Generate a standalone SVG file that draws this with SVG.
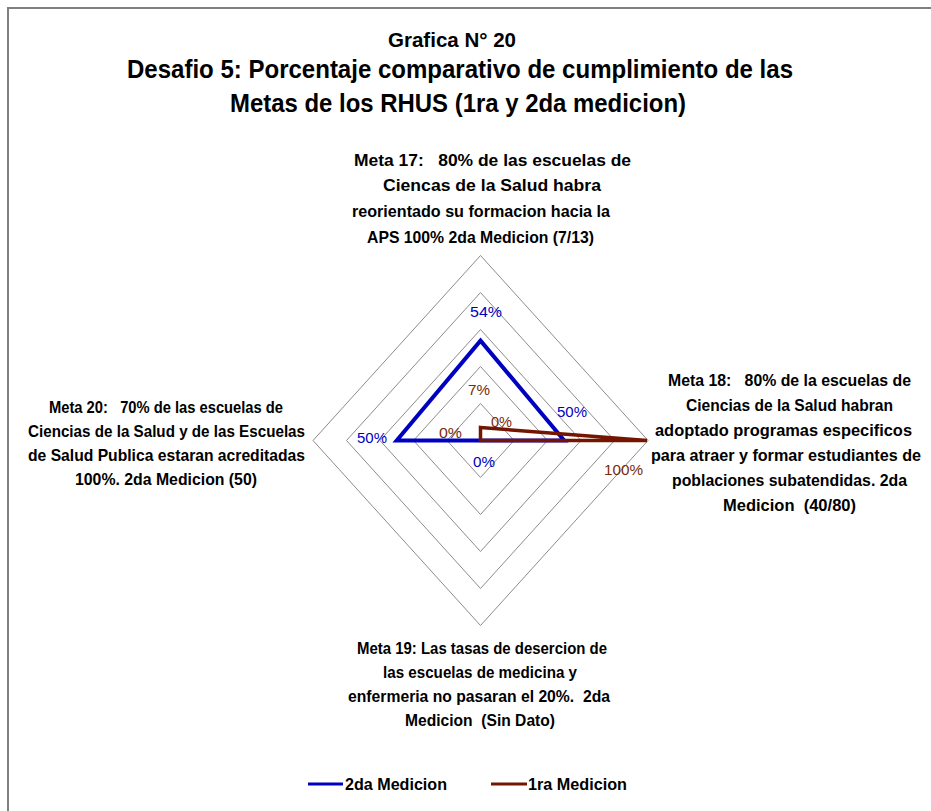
<svg xmlns="http://www.w3.org/2000/svg" width="931" height="811" viewBox="0 0 931 811">
<style>
text{font-family:"Liberation Sans",Arial,sans-serif;font-weight:bold;fill:#000;white-space:pre}
.t1{font-size:21px}
.t2{font-size:25px}
.lb{font-size:17px}
.lbs{font-size:16px}
.dl{font-size:15px;font-weight:normal}
.blue{fill:#0000C0}
.brown{fill:#7A2A08}
.grid{fill:none;stroke:#8C8C8C;stroke-width:1}
.s2{fill:none;stroke:#0000C0;stroke-width:4;stroke-linejoin:miter}
.s1{fill:none;stroke:#731500;stroke-width:3.5;stroke-linejoin:miter}
</style>
<rect x="0" y="0" width="931" height="811" fill="#fff"/>
<rect x="8" y="8" width="950" height="830" fill="none" stroke="#7F7F7F" stroke-width="2"/>
<g id="title">
<text class="t1" x="388" y="47" textLength="128" lengthAdjust="spacingAndGlyphs">Grafica N° 20</text>
<text class="t2" x="127" y="78" textLength="666" lengthAdjust="spacingAndGlyphs">Desafio 5: Porcentaje comparativo de cumplimiento de las</text>
<text class="t2" x="230" y="112" textLength="456" lengthAdjust="spacingAndGlyphs">Metas de los RHUS (1ra y 2da medicion)</text>
</g>
<g id="grid">
<polygon class="grid" points="480.5,403.5 514,440.5 480.5,477.5 447,440.5"/>
<polygon class="grid" points="480.5,366.5 547.5,440.5 480.5,514.5 413.5,440.5"/>
<polygon class="grid" points="480.5,329.5 581,440.5 480.5,551.5 380,440.5"/>
<polygon class="grid" points="480.5,292.5 614.5,440.5 480.5,588.5 346.5,440.5"/>
<polygon class="grid" points="480.5,255.5 648,440.5 480.5,625.5 313,440.5"/>
</g>
<g id="connectors">
<polygon id="serie-2da" class="s2" points="480.5,340.6 564.2,440.5 480.5,440.5 396.7,440.5"/>
<polygon id="serie-1ra" class="s1" points="480.5,427.5 647,440.5 480.5,440.5 480.5,440.5"/>
</g>
<g id="data-labels">
<text class="dl blue" x="470" y="317" textLength="32" lengthAdjust="spacingAndGlyphs">54%</text>
<text class="dl blue" x="557" y="417" textLength="30" lengthAdjust="spacingAndGlyphs">50%</text>
<text class="dl blue" x="357" y="443" textLength="30" lengthAdjust="spacingAndGlyphs">50%</text>
<text class="dl blue" x="473" y="467" textLength="22" lengthAdjust="spacingAndGlyphs">0%</text>
<text class="dl brown" x="468" y="395" textLength="22" lengthAdjust="spacingAndGlyphs">7%</text>
<text class="dl brown" x="491" y="427" textLength="21" lengthAdjust="spacingAndGlyphs">0%</text>
<text class="dl brown" x="439" y="438" textLength="23" lengthAdjust="spacingAndGlyphs">0%</text>
<text class="dl brown" x="604" y="475" textLength="39" lengthAdjust="spacingAndGlyphs">100%</text>
</g>
<g id="meta17">
<text class="lb" x="354" y="166" textLength="277" lengthAdjust="spacingAndGlyphs">Meta 17:   80% de las escuelas de</text>
<text class="lb" x="383" y="191" textLength="218" lengthAdjust="spacingAndGlyphs">Ciencas de la Salud habra</text>
<text class="lb" x="352" y="217" textLength="258" lengthAdjust="spacingAndGlyphs">reorientado su formacion hacia la</text>
<text class="lb" x="367" y="243" textLength="227" lengthAdjust="spacingAndGlyphs">APS 100% 2da Medicion (7/13)</text>
</g>
<g id="meta18">
<text class="lb" x="668" y="386" textLength="243" lengthAdjust="spacingAndGlyphs">Meta 18:   80% de la escuelas de</text>
<text class="lb" x="686" y="411" textLength="207" lengthAdjust="spacingAndGlyphs">Ciencias de la Salud habran</text>
<text class="lb" x="655" y="436" textLength="257" lengthAdjust="spacingAndGlyphs">adoptado programas especificos</text>
<text class="lbs" x="651" y="461" textLength="270" lengthAdjust="spacingAndGlyphs">para atraer y formar estudiantes de</text>
<text class="lb" x="672" y="486" textLength="235" lengthAdjust="spacingAndGlyphs">poblaciones subatendidas. 2da</text>
<text class="lb" x="723" y="511" textLength="133" lengthAdjust="spacingAndGlyphs">Medicion  (40/80)</text>
</g>
<g id="meta19">
<text class="lb" x="357" y="654" textLength="250" lengthAdjust="spacingAndGlyphs">Meta 19: Las tasas de desercion de</text>
<text class="lb" x="383" y="678" textLength="194" lengthAdjust="spacingAndGlyphs">las escuelas de medicina y</text>
<text class="lb" x="348" y="702" textLength="262" lengthAdjust="spacingAndGlyphs">enfermeria no pasaran el 20%.  2da</text>
<text class="lb" x="405" y="726" textLength="150" lengthAdjust="spacingAndGlyphs">Medicion  (Sin Dato)</text>
</g>
<g id="meta20">
<text class="lb" x="49" y="413" textLength="234" lengthAdjust="spacingAndGlyphs">Meta 20:   70% de las escuelas de</text>
<text class="lb" x="28" y="437" textLength="277" lengthAdjust="spacingAndGlyphs">Ciencias de la Salud y de las Escuelas</text>
<text class="lb" x="28" y="461" textLength="277" lengthAdjust="spacingAndGlyphs">de Salud Publica estaran acreditadas</text>
<text class="lb" x="75" y="485" textLength="182" lengthAdjust="spacingAndGlyphs">100%. 2da Medicion (50)</text>
</g>
<g id="legend">
<line x1="308" y1="784" x2="343" y2="784" stroke="#0000C0" stroke-width="3"/>
<text class="lb" x="345" y="790" textLength="102" lengthAdjust="spacingAndGlyphs">2da Medicion</text>
<line x1="491" y1="784" x2="527" y2="784" stroke="#731500" stroke-width="3"/>
<text class="lb" x="528" y="790" textLength="99" lengthAdjust="spacingAndGlyphs">1ra Medicion</text>
</g>
</svg>
